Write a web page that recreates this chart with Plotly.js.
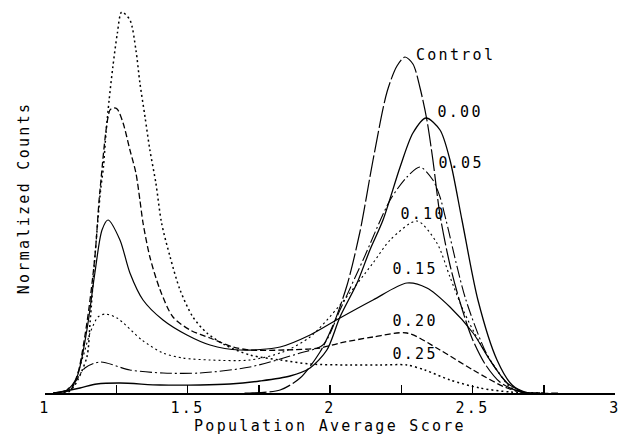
<!DOCTYPE html>
<html>
<head>
<meta charset="utf-8">
<script src="https://cdn.plot.ly/plotly-3.0.1.min.js"></script>
<style>
html, body { margin: 0; padding: 0; background: #fff; }
#chart { width: 633px; height: 445px; }
.main-svg text { letter-spacing: 2.3px; }
</style>
</head>
<body>
<div id="chart"></div>
<script>
// Population average score (x) and normalized counts (relative units)
const scoreControl = [1.70, 1.719, 1.825, 1.895, 1.965, 2.011, 2.060, 2.105, 2.151, 2.200, 2.235, 2.263, 2.291, 2.316, 2.340, 2.361, 2.386, 2.421, 2.456, 2.498, 2.544, 2.596, 2.649, 2.702, 2.80];
const countsControl = [0, 0, 3, 15, 41, 68, 108, 161, 233, 301, 327, 336, 329, 305, 273, 233, 178, 128, 91, 55, 29, 11, 3, 0, 0];

const score000 = [1.03, 1.053, 1.123, 1.182, 1.263, 1.404, 1.544, 1.649, 1.754, 1.860, 1.930, 1.989, 2.035, 2.095, 2.140, 2.186, 2.246, 2.291, 2.337, 2.386, 2.421, 2.463, 2.519, 2.586, 2.639, 2.684, 2.737];
const counts000 = [0, 1, 5, 9, 10, 8, 8, 9, 12, 17, 25, 43, 76, 110, 143, 173, 226, 260, 275, 263, 233, 173, 93, 33, 8, 1, 0];

const score005 = [1.03, 1.060, 1.098, 1.140, 1.193, 1.298, 1.414, 1.544, 1.719, 1.895, 1.975, 2.035, 2.116, 2.211, 2.270, 2.316, 2.361, 2.386, 2.407, 2.477, 2.561, 2.649, 2.702];
const counts005 = [0, 1, 8, 25, 31, 23, 20, 20, 26, 40, 48, 83, 133, 193, 216, 226, 213, 196, 173, 93, 33, 3, 0];

const score010 = [1.03, 1.07, 1.095, 1.133, 1.158, 1.186, 1.211, 1.253, 1.340, 1.414, 1.484, 1.579, 1.719, 1.835, 1.930, 2.035, 2.151, 2.211, 2.305, 2.375, 2.421, 2.467, 2.526, 2.586, 2.642, 2.702];
const counts010 = [0, 1, 6, 36, 60, 76, 79, 75, 53, 40, 35, 33, 33, 41, 56, 88, 130, 153, 172, 150, 116, 83, 50, 23, 3, 0];

const score015 = [1.03, 1.077, 1.112, 1.147, 1.175, 1.200, 1.221, 1.263, 1.298, 1.344, 1.414, 1.498, 1.579, 1.684, 1.825, 1.930, 2.035, 2.151, 2.270, 2.340, 2.421, 2.502, 2.561, 2.621, 2.684];
const counts015 = [0, 3, 16, 63, 120, 163, 173, 153, 120, 93, 73, 58, 48, 43, 46, 58, 75, 93, 110, 105, 86, 60, 33, 10, 0];

const score020 = [1.03, 1.088, 1.112, 1.147, 1.175, 1.193, 1.228, 1.239, 1.253, 1.274, 1.298, 1.319, 1.333, 1.344, 1.368, 1.404, 1.449, 1.509, 1.579, 1.660, 1.719, 1.842, 1.965, 2.035, 2.151, 2.270, 2.386, 2.502, 2.621, 2.702];
const counts020 = [0, 3, 16, 70, 136, 203, 283, 285, 284, 270, 243, 220, 193, 170, 136, 103, 76, 63, 55, 46, 43, 43, 45, 50, 56, 60, 43, 23, 5, 0];

const score025 = [1.03, 1.081, 1.105, 1.147, 1.158, 1.175, 1.195, 1.205, 1.214, 1.225, 1.238, 1.254, 1.269, 1.298, 1.319, 1.333, 1.351, 1.368, 1.389, 1.409, 1.439, 1.474, 1.519, 1.568, 1.632, 1.719, 1.825, 1.930, 2.070, 2.175, 2.270, 2.333, 2.421, 2.526, 2.632, 2.75];
const counts025 = [0, 1, 8, 36, 70, 136, 203, 226, 260, 293, 326, 360, 381, 373, 343, 310, 276, 243, 210, 170, 136, 103, 76, 60, 48, 38, 33, 29, 28, 28, 28, 23, 13, 5, 1, 0];

const seriesNames = ["Control", "0.00", "0.05", "0.10", "0.15", "0.20", "0.25"];
const labelScores = [2.442, 2.456, 2.460, 2.326, 2.298, 2.298, 2.298];
const labelCounts = [338, 281, 230, 179, 124, 72, 39];

const tickValues = [1, 1.25, 1.5, 1.75, 2, 2.25, 2.5, 2.75, 3];
const tickLabels = ["1", "", "1.5", "", "2", "", "2.5", "", "3"];

const xs = [scoreControl, score000, score005, score010, score015, score020, score025];
const ys = [countsControl, counts000, counts005, counts010, counts015, counts020, counts025];
const dashes = ["22px,3px", "solid", "12px,3px,2px,3px", "2px,3px", "solid", "6px,3px", "2px,3px"];
const widths = [1.2, 1.3, 1.1, 1.1, 1.2, 1.3, 1.5];

const FONT = "DejaVu Sans Mono, monospace";

const traces = xs.map((x, i) => ({
  x: x, y: ys[i], name: seriesNames[i], type: "scatter", mode: "lines",
  line: { color: "#000", width: widths[i], dash: dashes[i], shape: "spline", smoothing: 0.8 },
  hoverinfo: "skip"
}));

const annotations = seriesNames.map((n, i) => ({
  x: labelScores[i], y: labelCounts[i], xref: "x", yref: "y", text: n,
  showarrow: false, xanchor: "center", yanchor: "middle",
  font: { family: FONT, size: 15, color: "#000" }
}));

const layout = {
  width: 633, height: 445,
  margin: { l: 45, r: 18, t: 3, b: 52 },
  paper_bgcolor: "#fff", plot_bgcolor: "#fff",
  showlegend: false,
  xaxis: {
    range: [1, 3], showgrid: false, zeroline: false,
    showline: true, linecolor: "#000", linewidth: 1.5,
    ticks: "inside", ticklen: 8, tickwidth: 1.5, tickcolor: "#000",
    tickmode: "array", tickvals: tickValues, ticktext: tickLabels,
    tickfont: { family: FONT, size: 15, color: "#000" },
    title: { text: "Population Average Score", font: { family: FONT, size: 15, color: "#000" }, standoff: 4 },
    automargin: false, fixedrange: true
  },
  yaxis: {
    range: [0, 390], showgrid: false, zeroline: false, showline: false,
    showticklabels: false, ticks: "",
    title: { text: "Normalized Counts", font: { family: FONT, size: 15, color: "#000" }, standoff: 10 },
    automargin: false, fixedrange: true
  },
  annotations: annotations
};

Plotly.newPlot("chart", traces, layout, { staticPlot: true, displayModeBar: false });
</script>
</body>
</html>
